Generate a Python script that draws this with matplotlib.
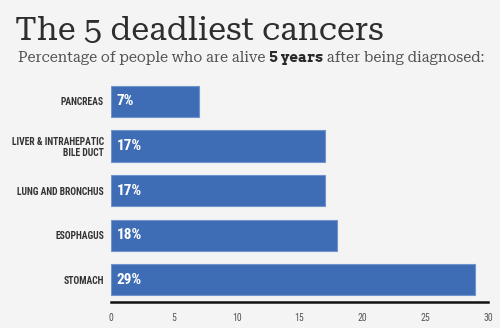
import matplotlib.pyplot as plt

# five-year survival rates, top to bottom
cancers = ['PANCREAS', 'LIVER & INTRAHEPATIC\nBILE DUCT', 'LUNG AND BRONCHUS', 'ESOPHAGUS', 'STOMACH']
survival = [7, 17, 17, 18, 29]
xticks = [0, 5, 10, 15, 20, 25, 30]

bg = '#f4f4f4'
bar_color = '#3f6db5'
serif = ['Roboto Serif', 'DejaVu Serif']
slab_bold = ['Arvo', 'DejaVu Serif']
cond = ['Roboto Condensed', 'DejaVu Sans']

fig = plt.figure(figsize=(5, 3.28), dpi=100, facecolor=bg)
ax = fig.add_axes([0.222, 0.079, 0.754, 0.68], facecolor=bg)

pos = list(range(len(cancers)))
ax.barh(pos, survival, height=0.7, color=bar_color, edgecolor='#6f93cc', linewidth=0.8)
for p, v in zip(pos, survival):
    ax.text(0.45, p, f'{v}%', color='white', fontweight='bold', fontsize=11,
            family=cond, va='center', ha='left')

ax.set_ylim(len(cancers) - 0.5, -0.5)
ax.set_xlim(0, 30)
ax.set_yticks(pos)
ax.set_yticklabels(cancers, fontsize=6.9, fontweight='bold', family=cond,
                   color='#333333', ha='right', linespacing=1.1)
ax.set_xticks(xticks)
ax.set_xticklabels([str(t) for t in xticks], fontsize=7, color='#555555', family=cond)
ax.tick_params(axis='both', length=0)
ax.tick_params(axis='y', pad=5)
ax.tick_params(axis='x', pad=8)
for s in ['top', 'right', 'left']:
    ax.spines[s].set_visible(False)
ax.spines['bottom'].set_linewidth(1.8)
ax.spines['bottom'].set_color('#111111')

renderer = fig.canvas.get_renderer()
W = fig.bbox.width

# title, sized to span its column
title = fig.text(15 / W, 0.905, 'The 5 deadliest cancers', fontsize=24, family=serif,
                 color='#2e2e2e', va='center', ha='left')
tw = title.get_window_extent(renderer).width
title.set_fontsize(24 * 368 / tw)

# subtitle in three runs so "5 years" can be bold
parts = [('Percentage of people who are alive ', serif, 'normal', '#555555'),
         ('5 years', slab_bold, 'bold', '#2a2a2a'),
         (' after being diagnosed:', serif, 'normal', '#555555')]
runs = []
x = 18 / W
for s, fam, w, c in parts:
    t = fig.text(x, 0.822, s, fontsize=11, family=fam, fontweight=w,
                 color=c, va='center', ha='left')
    runs.append(t)
    x = fig.transFigure.inverted().transform((t.get_window_extent(renderer).x1, 0))[0]
total = x * W - 18
size = 11 * 469 / total
x = 18 / W
for t in runs:
    t.set_fontsize(size)
    t.set_x(x)
    x = fig.transFigure.inverted().transform((t.get_window_extent(renderer).x1, 0))[0]

fig.savefig('out.png', dpi=100, facecolor=bg)
